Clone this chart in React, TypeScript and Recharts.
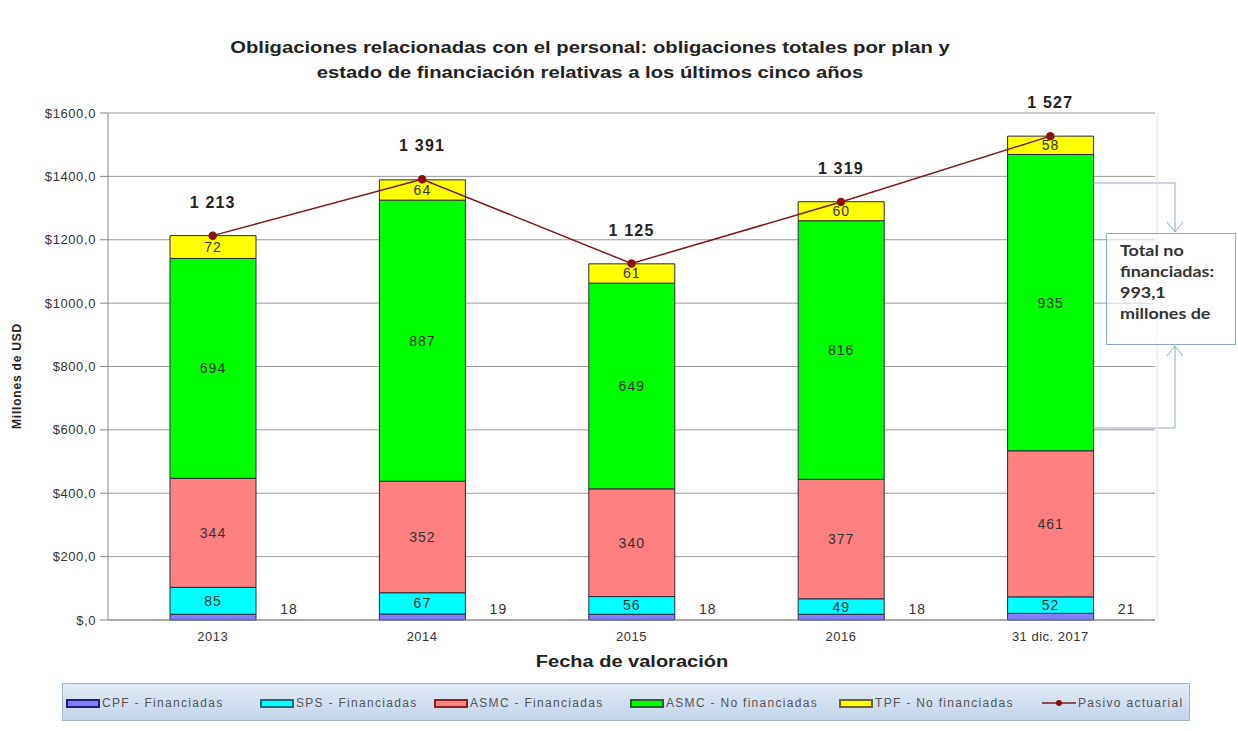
import { Bar, BarChart, CartesianGrid, LabelList, Line, XAxis, YAxis } from 'recharts';

const years = ['2013', '2014', '2015', '2016', '31 dic. 2017'];
const cpfFin = [18, 19, 18, 18, 21];
const spsFin = [85, 67, 56, 49, 52];
const asmcFin = [344, 352, 340, 377, 461];
const asmcNoFin = [694, 887, 649, 816, 935];
const tpfNoFin = [72, 64, 61, 60, 58];
const pasivo = [1213, 1391, 1125, 1319, 1527];
const yTicks = [0, 200, 400, 600, 800, 1000, 1200, 1400, 1600];

const data = years.map((year, i) => ({
  year,
  cpf: cpfFin[i],
  sps: spsFin[i],
  asmcF: asmcFin[i],
  asmcN: asmcNoFin[i],
  tpf: tpfNoFin[i],
  total: pasivo[i],
}));

const font = '"Liberation Sans", Arial, sans-serif';
const edge = '#2a2a3a';

const legendItems = [
  { name: 'CPF - Financiadas', fill: '#8080ff', border: '#1f1f7a', left: 65 },
  { name: 'SPS - Financiadas', fill: '#00ffff', border: '#1f6f7a', left: 259 },
  { name: 'ASMC - Financiadas', fill: '#ff8080', border: '#8a1f1f', left: 433 },
  { name: 'ASMC - No financiadas', fill: '#00ff00', border: '#1f6a1f', left: 629 },
  { name: 'TPF - No financiadas', fill: '#ffff00', border: '#6a6a1f', left: 838 },
];

const thousands = (v: number) => String(v).replace(/\B(?=(\d{3})+(?!\d))/g, ' ');

function CpfLabel(props: any) {
  const { x, y, width, height, value } = props;
  return (
    <text x={x + width + 33} y={y + height - 6} textAnchor="middle" fontSize={14} letterSpacing={1} fill="#333" fontFamily={font}>
      {value}
    </text>
  );
}

function TotalLabel(props: any) {
  const { x, y, value } = props;
  return (
    <text x={x} y={y - 28} textAnchor="middle" fontSize={16} letterSpacing={1.2} fontWeight="bold" fill="#222" fontFamily={font}>
      {thousands(value)}
    </text>
  );
}

const inner = { fontSize: 14, fill: '#333', fontFamily: font, letterSpacing: 1 };

export default function App() {
  return (
    <div style={{ position: 'absolute', left: 0, top: 0, width: 1238, height: 731, background: '#fff', fontFamily: font, overflow: 'hidden' }}>
      <div style={{ position: 'absolute', left: 0, top: 35, width: 1180, textAlign: 'center', fontSize: 17, fontWeight: 'bold', color: '#222', lineHeight: '25px', transform: 'scaleX(1.19)', transformOrigin: '590px 0' }}>
        Obligaciones relacionadas con el personal: obligaciones totales por plan y
        <br />
        estado de financiación relativas a los últimos cinco años
      </div>
      <div style={{ position: 'absolute', left: 17, top: 376, transform: 'translate(-50%, -50%) rotate(-90deg)', fontSize: 12, letterSpacing: 0.8, fontWeight: 'bold', color: '#222', whiteSpace: 'nowrap' }}>
        Millones de USD
      </div>
      <BarChart
        width={1238}
        height={731}
        data={data}
        margin={{ top: 113, right: 83, bottom: 81, left: 28 }}
        style={{ position: 'absolute', left: 0, top: 0 }}
      >
        <CartesianGrid vertical={false} stroke="#9a9a9a" />
        <XAxis
          dataKey="year"
          height={30}
          tickLine={false}
          stroke="#888"
          tick={{ fontSize: 13, fill: '#333', fontFamily: font, letterSpacing: 0.5 }}
          tickMargin={6}
        />
        <YAxis
          width={80}
          domain={[0, 1600]}
          ticks={yTicks}
          tickSize={8}
          tickMargin={4}
          stroke="#888"
          tickFormatter={(v: number) => (v === 0 ? '$,0' : `$${v},0`)}
          tick={{ fontSize: 13, fill: '#333', fontFamily: font, letterSpacing: 0.6 }}
        />
        <Bar dataKey="cpf" stackId="a" fill="#8080ff" stroke={edge} barSize={86} isAnimationActive={false}>
          <LabelList dataKey="cpf" content={CpfLabel} />
        </Bar>
        <Bar dataKey="sps" stackId="a" fill="#00ffff" stroke={edge} barSize={86} isAnimationActive={false}>
          <LabelList dataKey="sps" position="center" style={inner} />
        </Bar>
        <Bar dataKey="asmcF" stackId="a" fill="#ff8080" stroke={edge} barSize={86} isAnimationActive={false}>
          <LabelList dataKey="asmcF" position="center" style={inner} />
        </Bar>
        <Bar dataKey="asmcN" stackId="a" fill="#00ff00" stroke={edge} barSize={86} isAnimationActive={false}>
          <LabelList dataKey="asmcN" position="center" style={inner} />
        </Bar>
        <Bar dataKey="tpf" stackId="a" fill="#ffff00" stroke={edge} barSize={86} isAnimationActive={false}>
          <LabelList dataKey="tpf" position="center" style={inner} />
        </Bar>
        <Line
          dataKey="total"
          stroke="#7a1a1a"
          strokeWidth={1.5}
          dot={{ r: 3.5, fill: '#8b1010', stroke: '#8b1010' }}
          isAnimationActive={false}
        >
          <LabelList dataKey="total" content={TotalLabel} />
        </Line>
      </BarChart>
      <div style={{ position: 'absolute', left: 632, top: 653, transform: 'translateX(-50%) scaleX(1.25)', fontSize: 16, fontWeight: 'bold', color: '#222', whiteSpace: 'nowrap' }}>
        Fecha de valoración
      </div>
      <svg width={1238} height={731} style={{ position: 'absolute', left: 0, top: 0, pointerEvents: 'none' }}>
        <polyline points="1092,183 1175,183 1175,232" fill="none" stroke="#8fa9cc" strokeWidth={1} />
        <polyline points="1167,222 1175,232 1183,222" fill="none" stroke="#8fa9cc" strokeWidth={1} />
        <polyline points="1092,428 1175,428 1175,346" fill="none" stroke="#8fa9cc" strokeWidth={1} />
        <polyline points="1167,356 1175,346 1183,356" fill="none" stroke="#8fa9cc" strokeWidth={1} />
        <line x1={1157} y1={113} x2={1157} y2={620} stroke="#e4e4e4" />
      </svg>
      <div style={{ position: 'absolute', left: 1106, top: 233, width: 130, height: 112, border: '1px solid #8fa9cc', background: 'rgba(255,255,255,0.6)', boxSizing: 'border-box', padding: '5px 0 0 13px', fontFamily: 'Lato, sans-serif', fontWeight: 'bold', fontSize: 16, lineHeight: '21px', color: '#333', whiteSpace: 'nowrap' }}>
        <div style={{ transform: 'scaleX(1.12)', transformOrigin: '0 0' }}>
          Total no
          <br />
          financiadas:
          <br />
          993,1
          <br />
          millones de
        </div>
      </div>
      <div style={{ position: 'absolute', left: 62, top: 683, width: 1128, height: 38, border: '1px solid #9fb3cc', boxSizing: 'border-box', background: 'linear-gradient(#e2ebf6, #c3d5ec)' }}>
        {legendItems.map((it) => (
          <div key={it.name} style={{ position: 'absolute', left: it.left - 62, top: 12, display: 'flex', alignItems: 'center', fontSize: 12, letterSpacing: 1.3, color: '#555', whiteSpace: 'nowrap' }}>
            <span style={{ display: 'inline-block', width: 30, height: 5, background: it.fill, border: `2px solid ${it.border}`, marginRight: 2 }} />
            {it.name}
          </div>
        ))}
        <div style={{ position: 'absolute', left: 1041 - 62, top: 12, display: 'flex', alignItems: 'center', fontSize: 12, letterSpacing: 1.3, color: '#555', whiteSpace: 'nowrap' }}>
          <svg width={34} height={10} style={{ marginRight: 2 }}>
            <line x1={0} y1={5} x2={34} y2={5} stroke="#7a1a1a" strokeWidth={1.5} />
            <circle cx={17} cy={5} r={3} fill="#8b1010" />
          </svg>
          Pasivo actuarial
        </div>
      </div>
    </div>
  );
}
